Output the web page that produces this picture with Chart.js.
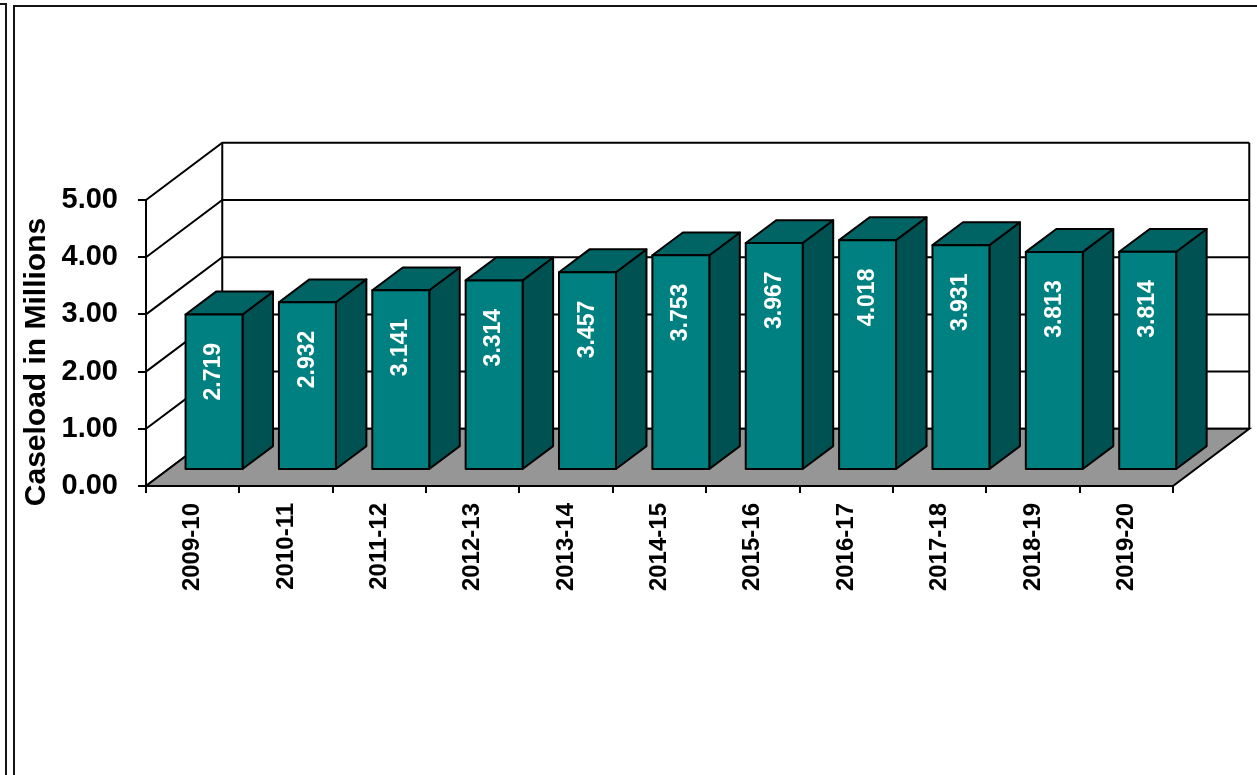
<!DOCTYPE html>
<html>
<head>
<meta charset="utf-8">
<title>Caseload in Millions</title>
<script src="https://cdn.jsdelivr.net/npm/chart.js@4.4.1/dist/chart.umd.min.js"></script>
<style>
  html, body { margin: 0; padding: 0; background: #fff; overflow: hidden; }
  .frame-outer { position: absolute; left: -20px; top: 3px; width: 23px; height: 800px; border: 2px solid #151515; }
  .frame-inner { position: absolute; left: 13px; top: 5px; width: 1300px; height: 800px; border-left: 2px solid #151515; border-top: 2px solid #151515; }
  #chart { position: absolute; left: 0; top: 0; }
</style>
</head>
<body>
<div class="frame-outer"></div>
<div class="frame-inner"></div>
<canvas id="chart" width="1257" height="775"></canvas>
<script>
// data
const fiscalYears = ['2009-10', '2010-11', '2011-12', '2012-13', '2013-14', '2014-15',
                     '2015-16', '2016-17', '2017-18', '2018-19', '2019-20'];
const caseload = [2.719, 2.932, 3.141, 3.314, 3.457, 3.753, 3.967, 4.018, 3.931, 3.813, 3.814];
const yMin = 0;
const yMax = 5;
const yStep = 1;
const axisTitle = 'Caseload in Millions';

// 3d look, all depths in y-axis units
const WALL_DEPTH = 1.0;
const BAR_FRONT = 0.28;
const BAR_DEPTH = 0.40;
const SLANT = 4 / 3;        // px right per px up
const LABEL_DROP = 1.0;     // label centre sits this many units under the bar top

const FRONT = '#008080';
const TOP = '#006464';
const SIDE = '#005252';
const FLOOR = '#969696';
const FONT = "'Liberation Sans', Arial, sans-serif";

function depth(y, units) {
  const unit = y.getPixelForValue(0) - y.getPixelForValue(1);
  const dy = unit * units;
  return { dx: dy * SLANT, dy };
}

const bars3d = {
  id: 'bars3d',
  beforeDatasetsDraw(chart) {
    const { ctx, chartArea: a, scales: { y } } = chart;
    const { dx, dy } = depth(y, WALL_DEPTH);
    const top = y.getPixelForValue(yMax);
    const bot = y.getPixelForValue(yMin);

    ctx.save();
    ctx.strokeStyle = '#000';
    ctx.lineWidth = 2;

    // left wall diagonals and back wall gridlines
    y.ticks.forEach(t => {
      const py = y.getPixelForValue(t.value);
      ctx.beginPath();
      ctx.moveTo(a.left, py);
      ctx.lineTo(a.left + dx, py - dy);
      ctx.lineTo(a.right + dx, py - dy);
      ctx.stroke();
    });

    // wall edges
    ctx.beginPath();
    ctx.moveTo(a.left + dx, top - dy);
    ctx.lineTo(a.left + dx, bot - dy);
    ctx.moveTo(a.right + dx, top - dy);
    ctx.lineTo(a.right + dx, bot - dy);
    ctx.stroke();

    // floor
    ctx.beginPath();
    ctx.moveTo(a.left, bot);
    ctx.lineTo(a.right, bot);
    ctx.lineTo(a.right + dx, bot - dy);
    ctx.lineTo(a.left + dx, bot - dy);
    ctx.closePath();
    ctx.fillStyle = FLOOR;
    ctx.fill();
    ctx.stroke();
    ctx.restore();
  },

  afterDatasetsDraw(chart) {
    const { ctx, scales: { y } } = chart;
    const meta = chart.getDatasetMeta(0);
    const off = depth(y, BAR_FRONT);
    const d = depth(y, BAR_DEPTH);

    ctx.save();
    ctx.strokeStyle = '#000';
    ctx.lineWidth = 2;
    ctx.lineJoin = 'round';

    meta.data.forEach((bar, i) => {
      const x0 = bar.x - bar.width / 2 + off.dx;
      const x1 = bar.x + bar.width / 2 + off.dx;
      const yt = bar.y - off.dy;
      const yb = bar.base - off.dy;

      // side
      ctx.beginPath();
      ctx.moveTo(x1, yt);
      ctx.lineTo(x1 + d.dx, yt - d.dy);
      ctx.lineTo(x1 + d.dx, yb - d.dy);
      ctx.lineTo(x1, yb);
      ctx.closePath();
      ctx.fillStyle = SIDE;
      ctx.fill();
      ctx.stroke();

      // top
      ctx.beginPath();
      ctx.moveTo(x0, yt);
      ctx.lineTo(x0 + d.dx, yt - d.dy);
      ctx.lineTo(x1 + d.dx, yt - d.dy);
      ctx.lineTo(x1, yt);
      ctx.closePath();
      ctx.fillStyle = TOP;
      ctx.fill();
      ctx.stroke();

      // front
      ctx.beginPath();
      ctx.rect(x0, yt, x1 - x0, yb - yt);
      ctx.fillStyle = FRONT;
      ctx.fill();
      ctx.stroke();

      // value label
      const v = caseload[i];
      const ly = y.getPixelForValue(v - LABEL_DROP) - off.dy;
      ctx.save();
      ctx.translate((x0 + x1) / 2, ly);
      ctx.rotate(-Math.PI / 2);
      ctx.fillStyle = '#fff';
      ctx.font = 'bold 23px ' + FONT;
      ctx.textAlign = 'center';
      ctx.textBaseline = 'middle';
      ctx.fillText(v.toFixed(3), 0, 0);
      ctx.restore();
    });
    ctx.restore();
  },

  afterDraw(chart) {
    const { ctx, scales: { y } } = chart;
    const mid = (y.getPixelForValue(yMin) + y.getPixelForValue(yMax)) / 2;
    ctx.save();
    ctx.translate(37, mid + 19);
    ctx.rotate(-Math.PI / 2);
    ctx.fillStyle = '#000';
    ctx.font = 'bold 30px ' + FONT;
    ctx.textAlign = 'center';
    ctx.textBaseline = 'middle';
    ctx.fillText(axisTitle, 0, 0);
    ctx.restore();
  }
};

new Chart(document.getElementById('chart'), {
  type: 'bar',
  data: {
    labels: fiscalYears,
    datasets: [{
      data: caseload,
      backgroundColor: 'rgba(0,0,0,0)',
      borderWidth: 0,
      barPercentage: 0.61,
      categoryPercentage: 1
    }]
  },
  options: {
    responsive: false,
    animation: false,
    layout: { padding: { top: 200, right: 84, bottom: 0, left: 0 } },
    plugins: { legend: { display: false }, tooltip: { enabled: false } },
    scales: {
      x: {
        afterFit: s => { s.height = 289; },
        grid: { offset: true, drawOnChartArea: false, tickLength: 7, color: '#000', lineWidth: 2 },
        border: { color: '#000', width: 2 },
        ticks: {
          autoSkip: false, minRotation: 90, maxRotation: 90, padding: 10,
          color: '#000', font: { family: FONT, size: 24, weight: 'bold' }
        }
      },
      y: {
        min: yMin,
        max: yMax,
        afterFit: s => { s.width = 146; },
        grid: { drawOnChartArea: false, tickLength: 8, color: '#000', lineWidth: 2 },
        border: { color: '#000', width: 2 },
        ticks: {
          stepSize: yStep, padding: 20, color: '#000',
          font: { family: FONT, size: 29, weight: 'bold' },
          callback: v => v.toFixed(2)
        }
      }
    }
  },
  plugins: [bars3d]
});
</script>
</body>
</html>
